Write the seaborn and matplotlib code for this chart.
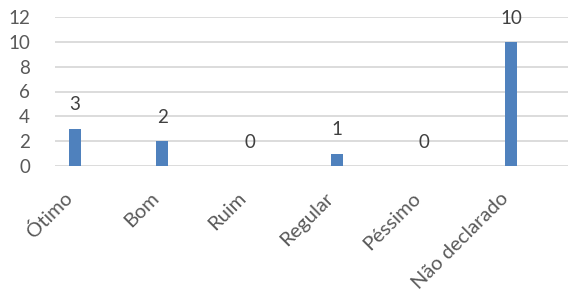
import matplotlib
matplotlib.use('Agg')
import matplotlib.pyplot as plt
import matplotlib.transforms as mtransforms
import seaborn as sns
import pandas as pd

# Data
categories = ['Ótimo', 'Bom', 'Ruim', 'Regular', 'Péssimo', 'Não declarado']
counts = [3, 2, 0, 1, 0, 10]
y_ticks = [0, 2, 4, 6, 8, 10, 12]

df = pd.DataFrame({'Categoria': categories, 'Quantidade': counts})

sns.set_style('white')
plt.rcParams['font.family'] = ['Lato', 'DejaVu Sans']

fig = plt.figure(figsize=(5.68, 2.99), dpi=100)
ax = fig.add_axes([55 / 568, 133 / 299, 513 / 568, 149 / 299])

sns.barplot(data=df, x='Categoria', y='Quantidade', color='#4F81BD',
            width=0.14, saturation=1, linewidth=0, ax=ax, zorder=3)

ax.set_ylim(0, 12)
ax.set_xlim(-0.23, 5.65)
ax.set_yticks(y_ticks)
ax.yaxis.grid(True, color='#D9D9D9', linewidth=1.3, zorder=0)
ax.set_axisbelow(True)
for s in ax.spines.values():
    s.set_visible(False)

ax.set_xlabel('')
ax.set_ylabel('')
ax.tick_params(axis='y', length=0, pad=18, labelsize=13.5, labelcolor='#595959')
ax.tick_params(axis='x', length=0, pad=21, labelsize=14.5, labelcolor='#595959')
shift = mtransforms.ScaledTranslation(-6 / 100, 0, fig.dpi_scale_trans)
for lbl in ax.get_xticklabels():
    lbl.set_rotation(45)
    lbl.set_ha('right')
    lbl.set_va('center')
    lbl.set_rotation_mode('anchor')
    lbl.set_transform(lbl.get_transform() + shift)

# Value labels
for container in ax.containers:
    ax.bar_label(container, labels=[str(v) for v in counts], padding=11,
                 fontsize=13.5, color='#404040')

fig.savefig('out.png', dpi=100)
